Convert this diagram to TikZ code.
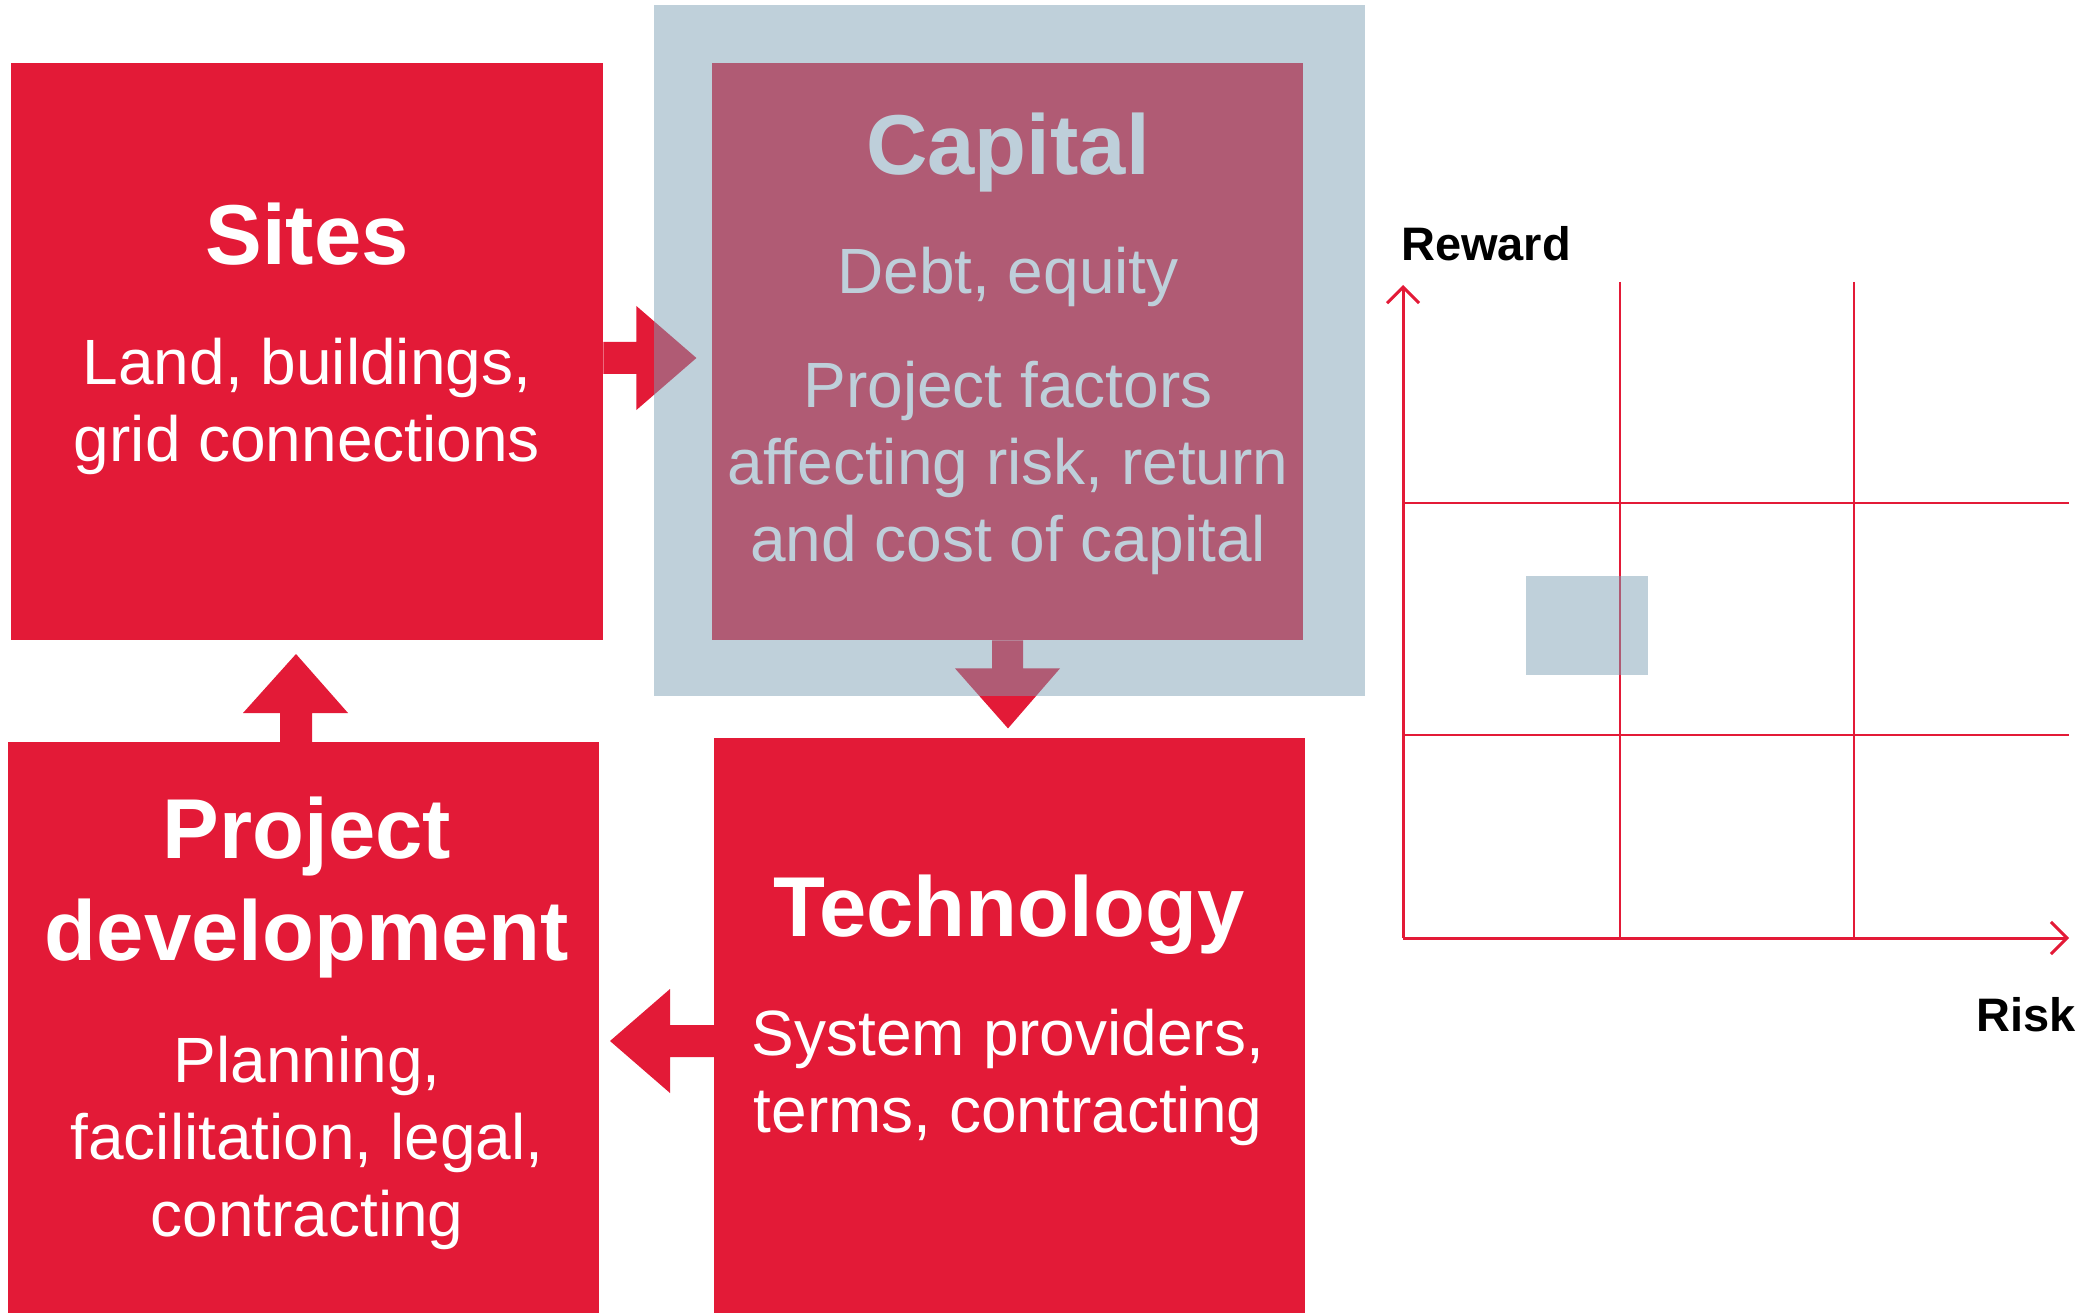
\documentclass[tikz,border=0pt]{standalone}
\usepackage{fontspec}
\setmainfont{Liberation Sans}
\usetikzlibrary{arrows.meta}

\newlength{\du}
\setlength{\du}{1pt}
\definecolor{boxred}{rgb}{0.890196, 0.101961, 0.215686}
\definecolor{veilblue}{rgb}{0.486275, 0.623529, 0.705882}

\tikzset{
  redbox/.style={fill=boxred, draw=none, anchor=north west, inner sep=0pt},
  blockarrow/.style={fill=boxred},
  veil/.style={fill=veilblue, fill opacity=0.49, draw=none, anchor=north west, inner sep=0pt},
  headtext/.style={text=white, font=\bfseries\fontsize{85}{102}\selectfont, align=center, anchor=base},
  bodytext/.style={text=white, font=\fontsize{64}{77}\selectfont, align=center, anchor=base},
  axistext/.style={text=black, font=\bfseries\fontsize{47}{56}\selectfont, inner sep=0pt},
  gridline/.style={draw=boxred, line width=1.8\du},
  axisline/.style={draw=boxred, line width=3\du, -{Straight Barb[length=16pt,width=32pt]}}
}

\begin{document}
\begin{tikzpicture}
\pgftransformxscale{1.000000}
\pgftransformyscale{-1.000000}
\useasboundingbox (0\du,0\du) rectangle (2096\du,1313\du);
% the four blocks
\node[redbox, minimum width=592\du, minimum height=577\du] (sites) at (11\du,63\du) {};
\node[redbox, minimum width=591\du, minimum height=577\du] (capital) at (712\du,63\du) {};
\node[redbox, minimum width=591\du, minimum height=575\du] (technology) at (714\du,738\du) {};
\node[redbox, minimum width=591\du, minimum height=571\du] (project) at (8\du,742\du) {};
% block arrows
\fill[blockarrow] (sites.east |- 0\du,342\du) -- ++(33\du,0) -- ++(0,-36\du) -- ++(60\du,52\du)
  -- ++(-60\du,52\du) -- ++(0,-36\du) -- ++(-33\du,0) -- cycle;
\fill[blockarrow] (992\du,0\du |- capital.south) -- ++(0,28\du) -- ++(-37\du,0) -- ++(53\du,60\du)
  -- ++(52\du,-60\du) -- ++(-37\du,0) -- ++(0,-28\du) -- cycle;
\fill[blockarrow] (technology.west |- 0\du,1025\du) -- ++(-44\du,0) -- ++(0,-36\du) -- ++(-60\du,52\du)
  -- ++(60\du,52\du) -- ++(0,-36\du) -- ++(44\du,0) -- cycle;
\fill[blockarrow] (280\du,0\du |- project.north) -- ++(0,-29\du) -- ++(-37\du,0) -- ++(53\du,-59\du)
  -- ++(52\du,59\du) -- ++(-36\du,0) -- ++(0,29\du) -- cycle;
% texts (multi-line nodes sit on their last line)
\node[headtext] (sitesTitle) at (307\du,265\du) {Sites};
\node[bodytext] (sitesText) at (307\du,461\du) {Land, buildings,\\grid connections};
\node[headtext] (capitalTitle) at (1008\du,175\du) {Capital};
\node[bodytext] (capitalText) at (1008\du,294\du) {Debt, equity};
\node[bodytext] (capitalMore) at (1008\du,561\du) {Project factors\\affecting risk, return\\and cost of capital};
\node[headtext] (technologyTitle) at (1009\du,936\du) {Technology};
\node[bodytext] (technologyText) at (1008\du,1132\du) {System providers,\\terms, contracting};
\node[headtext] (projectTitle) at (307\du,960\du) {Project\\development};
\node[bodytext] (projectText) at (307\du,1236\du) {Planning,\\facilitation, legal,\\contracting};
% veil over capital
\node[veil, minimum width=711\du, minimum height=691\du] (capitalveil) at (654\du,5\du) {};
% risk / reward chart
\coordinate (origin) at (1403\du,938\du);
\coordinate (rewardtip) at (1403\du,285\du);
\coordinate (risktip) at (2069\du,938\du);
\foreach \gx in {1620,1854}
  \draw[gridline] (\gx\du,282\du) -- (\gx\du,0\du |- origin);
\foreach \gy in {503,735}
  \draw[gridline] (origin |- 0\du,\gy\du) -- (2069\du,\gy\du);
\draw[axisline] (origin) -- (rewardtip);
\draw[axisline] (origin) -- (risktip);
\node[veil, minimum width=122\du, minimum height=99\du] (spot) at (1526\du,576\du) {};
\node[axistext, anchor=base west] (reward) at (1401\du,261\du) {Reward};
\node[axistext, anchor=base east] (risk) at (2076\du,1031\du) {Risk};
\end{tikzpicture}
\end{document}
